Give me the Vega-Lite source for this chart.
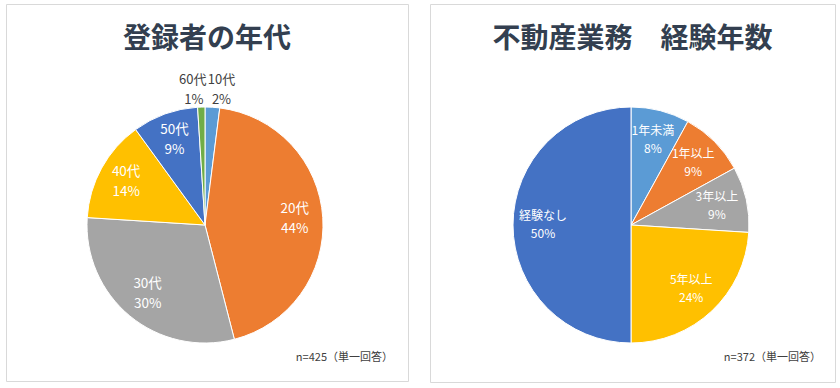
{
  "$schema": "https://vega.github.io/schema/vega-lite/v6.json",
  "background": "white",
  "padding": {"left": 5, "top": 3, "right": 0, "bottom": 0},
  "spacing": 20,
  "config": {
    "view": {"stroke": "#d9d9d9", "strokeWidth": 1},
    "font": "Noto Sans CJK JP",
    "title": {"font": "Noto Sans CJK JP", "fontSize": 28, "fontWeight": "bold", "color": "#333f50", "anchor": "middle", "frame": "group", "offset": -50}
  },
  "datasets": {
    "age": [
      {"rank": 1, "name": "10代", "pct": 0.02},
      {"rank": 2, "name": "20代", "pct": 0.44},
      {"rank": 3, "name": "30代", "pct": 0.30},
      {"rank": 4, "name": "40代", "pct": 0.14},
      {"rank": 5, "name": "50代", "pct": 0.09},
      {"rank": 6, "name": "60代", "pct": 0.01}
    ],
    "exp": [
      {"rank": 1, "name": "1年未満", "pct": 0.08},
      {"rank": 2, "name": "1年以上", "pct": 0.09},
      {"rank": 3, "name": "3年以上", "pct": 0.09},
      {"rank": 4, "name": "5年以上", "pct": 0.24},
      {"rank": 5, "name": "経験なし", "pct": 0.50}
    ]
  },
  "hconcat": [
    {
      "width": 402,
      "height": 377,
      "view": {"stroke": "#d9d9d9", "strokeWidth": 1},
      "title": {"text": "登録者の年代"},
      "data": {"name": "age"},
      "encoding": {
        "theta": {"field": "pct", "type": "quantitative", "stack": true},
        "order": {"field": "rank", "type": "quantitative"},
        "color": {"field": "name", "type": "nominal", "legend": null,
          "scale": {"domain": ["10代", "20代", "30代", "40代", "50代", "60代"],
                    "range": ["#5b9bd5", "#ed7d31", "#a5a5a5", "#ffc000", "#4472c4", "#70ad47"]}}
      },
      "layer": [
        {"mark": {"type": "arc", "outerRadius": 118, "stroke": "white", "strokeWidth": 1, "x": 199, "y": 221}},
        {"mark": {"type": "text", "radius": 90, "dy": -10, "fontSize": 13.5, "x": 199, "y": 221},
         "encoding": {"text": {"condition": {"test": "datum.pct > 0.02", "field": "name"}, "value": ""}, "color": {"value": "white"}}},
        {"mark": {"type": "text", "radius": 90, "dy": 10, "fontSize": 13.5, "x": 199, "y": 221},
         "encoding": {"text": {"condition": {"test": "datum.pct > 0.02", "field": "pct", "format": ".0%"}, "value": ""}, "color": {"value": "white"}}},
        {"mark": {"type": "text", "radius": 135, "dx": 8, "dy": -10, "fontSize": 13, "x": 199, "y": 221},
         "encoding": {"text": {"condition": {"test": "datum.name == '10代'", "field": "name"}, "value": ""}, "color": {"value": "#404040"}}},
        {"mark": {"type": "text", "radius": 135, "dx": 8, "dy": 10, "fontSize": 13, "x": 199, "y": 221},
         "encoding": {"text": {"condition": {"test": "datum.name == '10代'", "field": "pct", "format": ".0%"}, "value": ""}, "color": {"value": "#404040"}}},
        {"mark": {"type": "text", "radius": 135, "dx": -8, "dy": -10, "fontSize": 13, "x": 199, "y": 221},
         "encoding": {"text": {"condition": {"test": "datum.name == '60代'", "field": "name"}, "value": ""}, "color": {"value": "#404040"}}},
        {"mark": {"type": "text", "radius": 135, "dx": -7, "dy": 10, "fontSize": 13, "x": 199, "y": 221},
         "encoding": {"text": {"condition": {"test": "datum.name == '60代'", "field": "pct", "format": ".0%"}, "value": ""}, "color": {"value": "#404040"}}},
        {"data": {"values": [{"note": "n=425（単一回答）"}]},
         "mark": {"type": "text", "align": "right", "baseline": "middle", "fontSize": 11, "color": "#404040", "x": 387, "y": 354},
         "encoding": {"text": {"field": "note"}, "theta": null, "order": null, "color": null}}
      ]
    },
    {
      "width": 405,
      "height": 378,
      "view": {"stroke": "#d9d9d9", "strokeWidth": 1},
      "title": {"text": "不動産業務　経験年数"},
      "data": {"name": "exp"},
      "encoding": {
        "theta": {"field": "pct", "type": "quantitative", "stack": true},
        "order": {"field": "rank", "type": "quantitative"},
        "color": {"field": "name", "type": "nominal", "legend": null,
          "scale": {"domain": ["1年未満", "1年以上", "3年以上", "5年以上", "経験なし"],
                    "range": ["#5b9bd5", "#ed7d31", "#a5a5a5", "#ffc000", "#4472c4"]}}
      },
      "layer": [
        {"mark": {"type": "arc", "outerRadius": 118, "stroke": "white", "strokeWidth": 1, "x": 201, "y": 221}},
        {"mark": {"type": "text", "radius": 88, "dy": -9, "fontSize": 12, "x": 201, "y": 221},
         "encoding": {"text": {"field": "name"}, "color": {"value": "white"}}},
        {"mark": {"type": "text", "radius": 88, "dy": 9, "fontSize": 12, "x": 201, "y": 221},
         "encoding": {"text": {"field": "pct", "format": ".0%"}, "color": {"value": "white"}}},
        {"data": {"values": [{"note": "n=372（単一回答）"}]},
         "mark": {"type": "text", "align": "right", "baseline": "middle", "fontSize": 11, "color": "#404040", "x": 391, "y": 354},
         "encoding": {"text": {"field": "note"}, "theta": null, "order": null, "color": null}}
      ]
    }
  ]
}
